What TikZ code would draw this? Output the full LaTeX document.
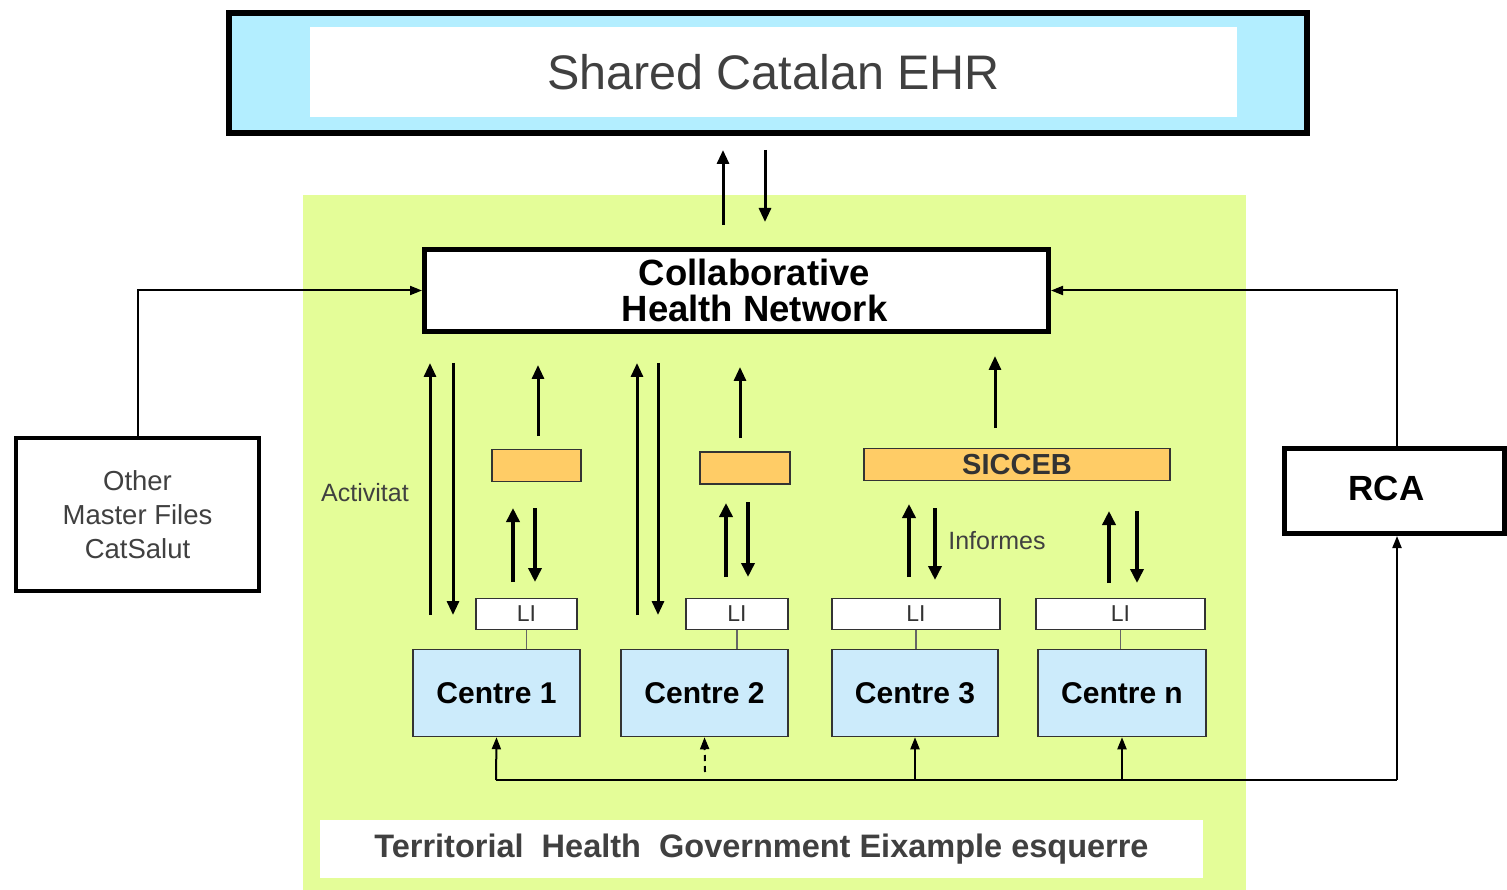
\documentclass[tikz,border=0pt]{standalone}
\usepackage{fontspec}
\setmainfont{Liberation Sans}
\usetikzlibrary{arrows.meta}
\definecolor{ehrblue}{HTML}{B3EEFF}
\definecolor{greenbg}{HTML}{E4FD98}
\definecolor{orangebox}{HTML}{FFCC66}
\definecolor{centreblue}{HTML}{CCEBFB}
\definecolor{txtgray}{HTML}{404040}
\begin{document}
\begin{tikzpicture}[x=1pt,y=-1pt,
  bigarrow/.style={line width=3pt,-{Triangle[length=14pt,width=12pt]}},
  smallarrow/.style={line width=4pt,-{Triangle[length=14pt,width=13pt]}},
  busarrow/.style={line width=2pt,-{Triangle[length=12pt,width=9pt]}},
  linkarrow/.style={line width=2pt,-{Triangle[length=12pt,width=9pt]}},
  orangestyle/.style={draw=black!80,line width=1.5pt,fill=orangebox,inner sep=0pt,minimum height=32pt},
  listyle/.style={draw=black!80,line width=1.5pt,fill=white,inner sep=0pt,minimum height=31pt,font=\fontsize{23}{25}\selectfont,text=black!80},
  centrestyle/.style={draw=black!80,line width=1.5pt,fill=centreblue,inner sep=0pt,minimum height=87pt,font=\bfseries\fontsize{30}{32}\selectfont},
  thickbox/.style={draw=black,fill=white,inner sep=0pt}]
\useasboundingbox (0,0) rectangle (1507,890);
% green background
\fill[greenbg] (303,195) rectangle (1246,890);
% top EHR box
\node[draw=black,line width=6pt,fill=ehrblue,minimum width=1078pt,minimum height=120pt,inner sep=0pt] (ehr) at (768,73) {};
\node[fill=white,minimum width=927pt,minimum height=90pt,inner sep=0pt,text=txtgray,font=\fontsize{48.5}{50}\selectfont] (ehrin) at (773.5,72) {Shared Catalan EHR};
% collaborative health network
\node[thickbox,line width=5pt,minimum width=624pt,minimum height=82pt,align=center,font=\bfseries\fontsize{36.5}{36}\selectfont] (chn) at (736.5,290.5) {\hspace*{36pt}Collaborative\\\hspace*{36pt}Health Network};
% other master files
\node[thickbox,line width=4pt,minimum width=243pt,minimum height=153pt,align=center,text=txtgray,font=\fontsize{27.5}{34}\selectfont] (other) at (137.5,514.5) {Other\\Master Files\\CatSalut};
% RCA
\node[thickbox,line width=5pt,minimum width=220pt,minimum height=85pt,font=\bfseries\fontsize{35}{36}\selectfont] (rca) at (1394.5,491) {\hspace*{-16pt}\raisebox{5pt}{RCA}};
% orange boxes
\node[orangestyle,minimum width=89pt] (or1) at (536.5,465.5) {};
\node[orangestyle,minimum width=90pt] (or2) at (745,468) {};
\node[orangestyle,minimum width=306pt,font=\bfseries\fontsize{29}{30}\selectfont,text=black!80] (sic) at (1017,464.5) {SICCEB};
% LI boxes
\node[listyle,minimum width=101pt] (li1) at (526.5,614) {LI};
\node[listyle,minimum width=102pt] (li2) at (737,614) {LI};
\node[listyle,minimum width=168pt] (li3) at (916,614) {LI};
\node[listyle,minimum width=169pt] (li4) at (1120.5,614) {LI};
% centres
\node[centrestyle,minimum width=167pt] (c1) at (496.5,693) {Centre 1};
\node[centrestyle,minimum width=167pt] (c2) at (704.5,693) {Centre 2};
\node[centrestyle,minimum width=166pt] (c3) at (915,693) {Centre 3};
\node[centrestyle,minimum width=168pt] (c4) at (1122,693) {Centre n};
% LI to centre links
\foreach \l/\c in {li1/c1,li2/c2,li3/c3,li4/c4}
  \draw[black!60,line width=1.5pt] (\l.south) -- (\l.south |- \c.north);
% bottom white label
\node[fill=white,minimum width=883pt,minimum height=58pt,inner sep=0pt,text=txtgray,font=\bfseries\fontsize{32.5}{34}\selectfont] (tg) at (761.5,849) {Territorial\ \ Health\ \ Government Eixample esquerre};
% text labels
\node[text=txtgray,font=\fontsize{25}{27}\selectfont,inner sep=0pt] (act) at (365,493) {Activitat};
\node[text=txtgray,font=\fontsize{25}{27}\selectfont,inner sep=0pt] (inf) at (997,541) {Informes};
% EHR <-> CHN
\draw[bigarrow] (723,225) -- (723,150);
\draw[bigarrow] (765,150) -- (765,222);
% side links
\draw[linkarrow] (other.north) -- (other.north |- chn.west) -- (chn.west);
\coordinate (rcatop) at (1397,448);
\draw[linkarrow] (rcatop) -- (rcatop |- chn.east) -- (chn.east);
% centre 1 group
\draw[bigarrow] (430,615) -- (430,363);
\draw[bigarrow] (453,363) -- (453,615);
\draw[bigarrow] (538,436) -- (538,365);
\draw[smallarrow] (513,582) -- (513,508);
\draw[smallarrow] (535,508) -- (535,582);
% centre 2 group
\draw[bigarrow] (637,615) -- (637,363);
\draw[bigarrow] (658,363) -- (658,615);
\draw[bigarrow] (740,438) -- (740,367);
\draw[smallarrow] (726,577) -- (726,503);
\draw[smallarrow] (748,502) -- (748,577);
% SICCEB group
\draw[bigarrow] (995,428) -- (995,356);
\draw[smallarrow] (909,577) -- (909,504);
\draw[smallarrow] (935,508) -- (935,580);
\draw[smallarrow] (1109,583) -- (1109,511);
\draw[smallarrow] (1137,511) -- (1137,583);
% bus
\coordinate (busL) at (496,780);
\coordinate (busR) at (1397,780);
\draw[line width=2pt] (busL) -- (busR);
\draw[busarrow] (busR) -- (rca.south -| busR);
\draw[busarrow] (busL) -- (c1.south);
\draw[busarrow] (c3.south |- busL) -- (c3.south);
\draw[busarrow] (c4.south |- busL) -- (c4.south);
\draw[busarrow,dash pattern=on 6pt off 5pt] (705,772) -- (c2.south);
\end{tikzpicture}
\end{document}
